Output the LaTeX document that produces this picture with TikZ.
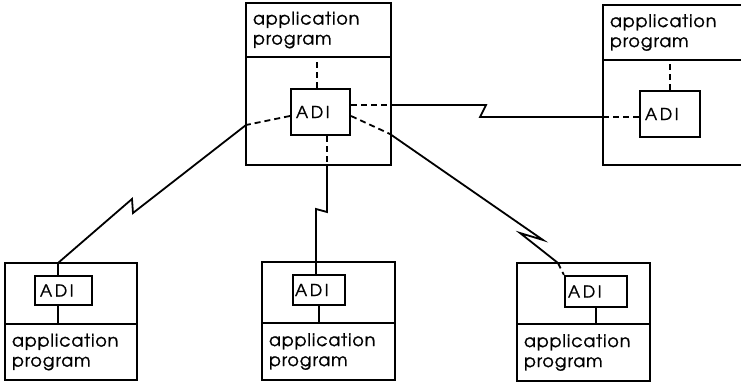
\documentclass[tikz,border=0pt]{standalone}
\usepackage{fontspec}
\newfontfamily\progfont{texgyreadventor-regular.otf}[LetterSpace=5, FakeBold=1.2]
\newfontfamily\adifont{texgyreadventor-regular.otf}[LetterSpace=16, FakeBold=1.2]
\begin{document}
\begin{tikzpicture}[x=1pt, y=-1pt,
                    line width=1.8pt,
                    dashed/.style={dash pattern=on 6pt off 4pt},
                    host/.style={draw, line width=2.2pt, inner sep=0},
                    prog/.style={draw, line width=2.2pt, align=left, inner xsep=7pt,
                                 minimum height=55, font=\progfont\fontsize{17.5}{20}\selectfont},
                    adi/.style={draw, line width=2.2pt, align=left, inner xsep=5pt,
                                font=\adifont\fontsize{16.5}{18}\selectfont}]
                \useasboundingbox (0,0) rectangle (741,385);
                \clip (0,0) rectangle (741,385);

                \node[host, minimum width=145, minimum height=162] (hostT) at (318.5,84) {};
                \node[prog, anchor=north west, text width=131, minimum height=54] (progT) at (hostT.north west) {application\\program};
                \node[adi, minimum height=46, text width=49] (adiT) at (320.5,112) {ADI};

                \node[host, minimum width=160, minimum height=160] (hostR) at (683,85) {};
                \node[prog, anchor=north west, text width=146] (progR) at (hostR.north west) {application\\program};
                \node[adi, minimum height=46, text width=50] (adiR) at (670,114) {ADI};

                \node[host, minimum width=132, minimum height=117] (hostBL) at (71,321.5) {};
                \node[prog, anchor=south west, text width=118, minimum height=56] (progBL) at (hostBL.south west) {application\\program};
                \node[adi, minimum height=29, text width=47] (adiBL) at (63.5,290.5) {ADI};

                \node[host, minimum width=133, minimum height=118] (hostBM) at (328.5,321) {};
                \node[prog, anchor=south west, text width=119, minimum height=57] (progBM) at (hostBM.south west) {application\\program};
                \node[adi, minimum height=30, text width=48, inner xsep=2pt] (adiBM) at (319,290) {ADI};

                \node[host, minimum width=133, minimum height=118] (hostBR) at (583.5,322) {};
                \node[prog, anchor=south west, text width=119, minimum height=57] (progBR) at (hostBR.south west) {application\\program};
                \node[adi, minimum height=31, text width=56, inner xsep=3pt] (adiBR) at (596,291.5) {ADI};

                \coordinate (tl) at (246,125);
                \coordinate (tr1) at (391,105);
                \coordinate (tr2) at (390,134);
                \coordinate (tb) at (327,165);
                \coordinate (zl1) at (133,213);
                \coordinate (zl2) at (132,199);
                \coordinate (zm1) at (327,212);
                \coordinate (zm2) at (316,209);
                \coordinate (zr1) at (486,105);
                \coordinate (zr2) at (480,117);
                \coordinate (zd1) at (543,240);
                \coordinate (zd2) at (520,233);
                \coordinate (bl) at (58,263);
                \coordinate (bm) at (316,262);
                \coordinate (br) at (558,263);
                \coordinate (rl) at (603,117);

                \draw[dashed] ([xshift=-3.5pt]adiT.north) -- ([xshift=-3.5pt]adiT.north |- progT.south);
                \draw[dashed] (adiR.north) -- (adiR.north |- progR.south);

                \draw[dashed] ([yshift=-4pt]adiT.west) -- (tl);
                \draw (tl) -- (zl1) -- (zl2) -- (bl);
                \draw (bl) -- ([xshift=-5.5pt]adiBL.north);
                \draw ([xshift=-5.5pt]adiBL.south) -- ([xshift=-5.5pt]adiBL.south |- progBL.north);

                \draw[dashed] ([xshift=6.5pt]adiT.south) -- (tb);
                \draw (tb) -- (zm1) -- (zm2) -- (bm);
                \draw (bm) -- (bm |- adiBM.north);
                \draw (adiBM.south) -- (adiBM.south |- progBM.north);

                \draw[dashed] ([yshift=7pt]adiT.east) -- (tr1);
                \draw (tr1) -- (zr1) -- (zr2) -- (rl);
                \draw[dashed] (rl) -- (rl -| adiR.west);

                \draw[dashed] ([yshift=-4pt]adiT.east) -- (tr2);
                \draw (tr2) -- (zd1) -- (zd2) -- (br);
                \draw[dashed] (br) -- (adiBR.north west);
                \draw (adiBR.south) -- (adiBR.south |- progBR.north);
            \end{tikzpicture}
\end{document}
